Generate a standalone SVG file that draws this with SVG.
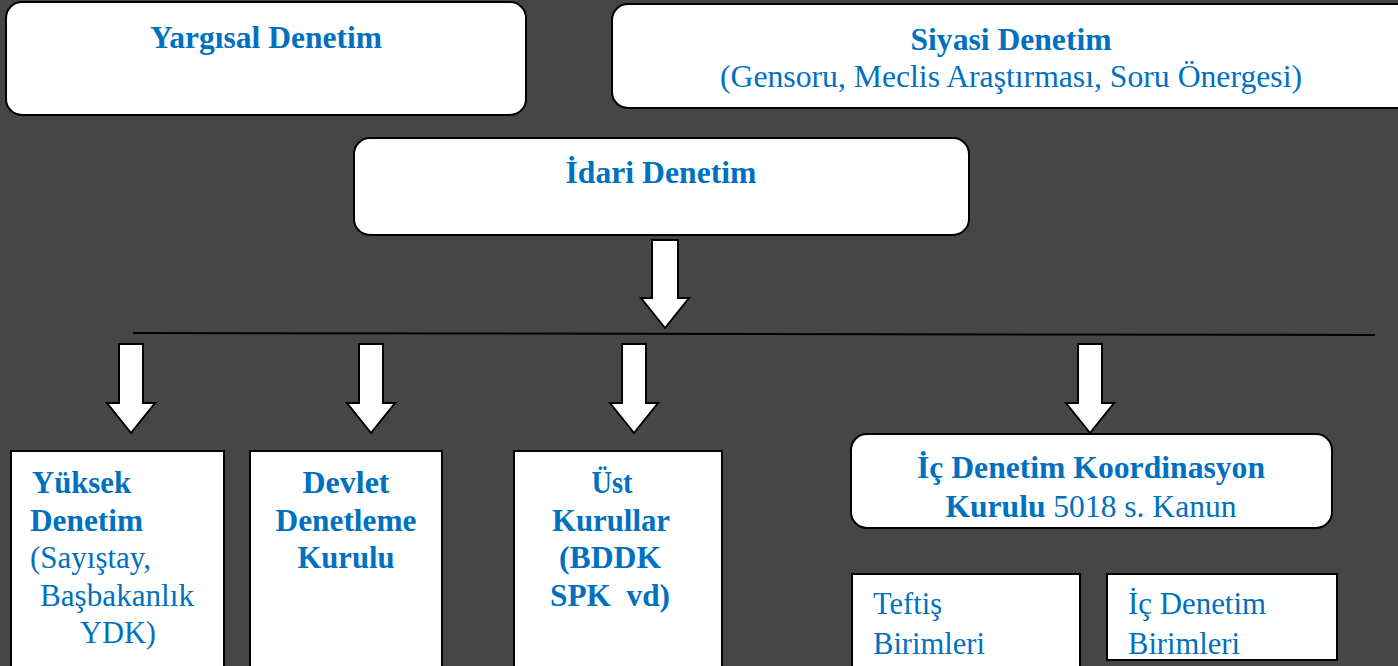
<svg xmlns="http://www.w3.org/2000/svg" width="1398" height="666" viewBox="0 0 1398 666">
<style>
.box{fill:#fff;stroke:#000;stroke-width:2}
.arr{fill:#fff;stroke:#000;stroke-width:2;stroke-linejoin:miter}
text{font-family:"Liberation Serif","Times New Roman",serif;fill:#0070C0;font-size:32px}
.b{font-weight:bold}
</style>
<rect x="0" y="0" width="1398" height="666" fill="#464646"/>
<g id="yargisal">
<rect class="box" x="6" y="2" width="520" height="113" rx="16"/>
<text class="b" x="266" y="48" text-anchor="middle" textLength="232" lengthAdjust="spacingAndGlyphs">Yargısal Denetim</text>
</g>
<g id="siyasi">
<rect class="box" x="612" y="4" width="800" height="104" rx="16"/>
<text class="b" x="1011" y="50" text-anchor="middle" textLength="201" lengthAdjust="spacingAndGlyphs">Siyasi Denetim</text>
<text x="1011" y="87" text-anchor="middle" textLength="582" lengthAdjust="spacingAndGlyphs">(Gensoru, Meclis Araştırması, Soru Önergesi)</text>
</g>
<g id="idari">
<rect class="box" x="354" y="138" width="615" height="97" rx="16"/>
<text class="b" x="661" y="183" text-anchor="middle" textLength="191" lengthAdjust="spacingAndGlyphs">İdari Denetim</text>
</g>
<g id="connectors">
<polygon class="arr" points="652,240 678,240 678,298 689,298 665,328 641,298 652,298"/>
<line x1="133" y1="333" x2="1375" y2="335" stroke="#000" stroke-width="2"/>
<polygon class="arr" points="119,344 143,344 143,403 155,403 131,433 107,403 119,403"/>
<polygon class="arr" points="359,344 383,344 383,403 395,403 371,433 347,403 359,403"/>
<polygon class="arr" points="622,344 646,344 646,403 658,403 634,433 610,403 622,403"/>
<polygon class="arr" points="1078,344 1102,344 1102,403 1114,403 1090,433 1066,403 1078,403"/>
</g>
<g id="yuksek">
<rect class="box" x="11" y="451" width="213" height="222"/>
<text class="b" x="32" y="493" textLength="99" lengthAdjust="spacingAndGlyphs">Yüksek</text>
<text class="b" x="30" y="531" textLength="113" lengthAdjust="spacingAndGlyphs">Denetim</text>
<text x="30" y="568" textLength="121" lengthAdjust="spacingAndGlyphs">(Sayıştay,</text>
<text x="40" y="606" textLength="154" lengthAdjust="spacingAndGlyphs">Başbakanlık</text>
<text x="80" y="643" textLength="76" lengthAdjust="spacingAndGlyphs">YDK)</text>
</g>
<g id="devlet">
<rect class="box" x="250" y="451" width="192" height="222"/>
<text class="b" x="346" y="493" text-anchor="middle" textLength="87" lengthAdjust="spacingAndGlyphs">Devlet</text>
<text class="b" x="346" y="531" text-anchor="middle" textLength="141" lengthAdjust="spacingAndGlyphs">Denetleme</text>
<text class="b" x="346" y="568" text-anchor="middle" textLength="97" lengthAdjust="spacingAndGlyphs">Kurulu</text>
</g>
<g id="ust">
<rect class="box" x="514" y="451" width="208" height="222"/>
<text class="b" x="612" y="493" text-anchor="middle" textLength="41" lengthAdjust="spacingAndGlyphs">Üst</text>
<text class="b" x="611" y="531" text-anchor="middle" textLength="118" lengthAdjust="spacingAndGlyphs">Kurullar</text>
<text class="b" x="610" y="568" text-anchor="middle" textLength="102" lengthAdjust="spacingAndGlyphs">(BDDK</text>
<text class="b" x="610" y="606" text-anchor="middle" textLength="120" lengthAdjust="spacingAndGlyphs" xml:space="preserve">SPK  vd)</text>
</g>
<g id="icdenetim-koord">
<rect class="box" x="851" y="434" width="481" height="94" rx="16"/>
<text class="b" x="1091" y="478" text-anchor="middle" textLength="348" lengthAdjust="spacingAndGlyphs">İç Denetim Koordinasyon</text>
<text x="1091" y="517" text-anchor="middle" textLength="291" lengthAdjust="spacingAndGlyphs"><tspan class="b">Kurulu</tspan> 5018 s. Kanun</text>
</g>
<g id="teftis">
<rect class="box" x="852" y="574" width="228" height="100"/>
<text x="873" y="614" textLength="69" lengthAdjust="spacingAndGlyphs">Teftiş</text>
<text x="873" y="654" textLength="112" lengthAdjust="spacingAndGlyphs">Birimleri</text>
</g>
<g id="icdenetim-birim">
<rect class="box" x="1107" y="574" width="230" height="86"/>
<text x="1128" y="614" textLength="138" lengthAdjust="spacingAndGlyphs">İç Denetim</text>
<text x="1128" y="654" textLength="112" lengthAdjust="spacingAndGlyphs">Birimleri</text>
</g>
</svg>
